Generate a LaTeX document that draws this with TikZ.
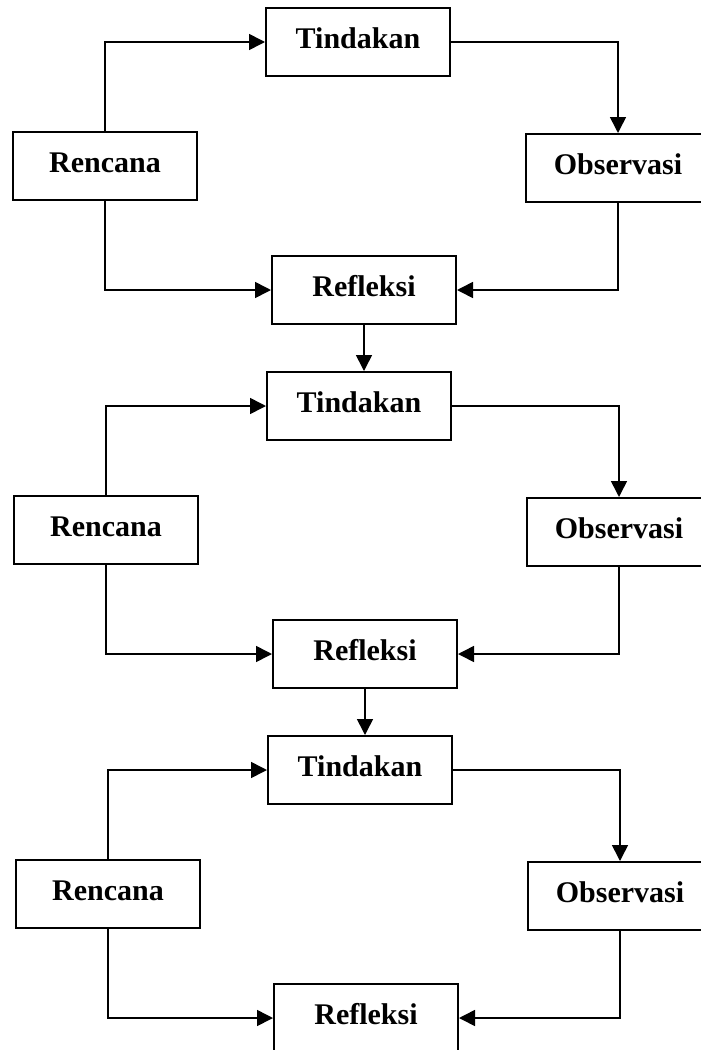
\documentclass[tikz,border=0pt]{standalone}
\usepackage{fontspec}
\setmainfont{Liberation Serif}
\usetikzlibrary{arrows.meta}

\begin{document}
\begin{tikzpicture}[
    x=0.5pt, y=-0.5pt,
    box/.style={draw, line width=1pt, inner sep=0pt, minimum width=92pt, minimum height=34pt, text height=10pt, text depth=4pt, font=\fontsize{15}{18}\selectfont\bfseries},
    arr/.style={-{Triangle[length=8pt, width=8pt]}, line width=0.8pt}
  ]
    \clip (0,0) rectangle (701,1050);
    % siklus I
    \node[box] (tind1) at (358,42) {Tindakan};
    \node[box] (renc1) at (105,166) {Rencana};
    \node[box] (obs1) at (618,168) {Observasi};
    \node[box] (refl1) at (364,290) {Refleksi};
    % siklus II
    \node[box] (tind2) at (359,406) {Tindakan};
    \node[box] (renc2) at (106,530) {Rencana};
    \node[box] (obs2) at (619,532) {Observasi};
    \node[box] (refl2) at (365,654) {Refleksi};
    % siklus III
    \node[box] (tind3) at (360,770) {Tindakan};
    \node[box] (renc3) at (108,894) {Rencana};
    \node[box] (obs3) at (620,896) {Observasi};
    \node[box] (refl3) at (366,1018) {Refleksi};
    \draw[arr] (renc1.north) |- (tind1.west);
    \draw[arr] (tind1.east) -| (obs1.north);
    \draw[arr] (renc1.south) |- (refl1.west);
    \draw[arr] (obs1.south) |- (refl1.east);
    \draw[arr] (refl1.south) -- (refl1.south |- tind2.north);
    \draw[arr] (renc2.north) |- (tind2.west);
    \draw[arr] (tind2.east) -| (obs2.north);
    \draw[arr] (renc2.south) |- (refl2.west);
    \draw[arr] (obs2.south) |- (refl2.east);
    \draw[arr] (refl2.south) -- (refl2.south |- tind3.north);
    \draw[arr] (renc3.north) |- (tind3.west);
    \draw[arr] (tind3.east) -| (obs3.north);
    \draw[arr] (renc3.south) |- (refl3.west);
    \draw[arr] (obs3.south) |- (refl3.east);
  \end{tikzpicture}
\end{document}
